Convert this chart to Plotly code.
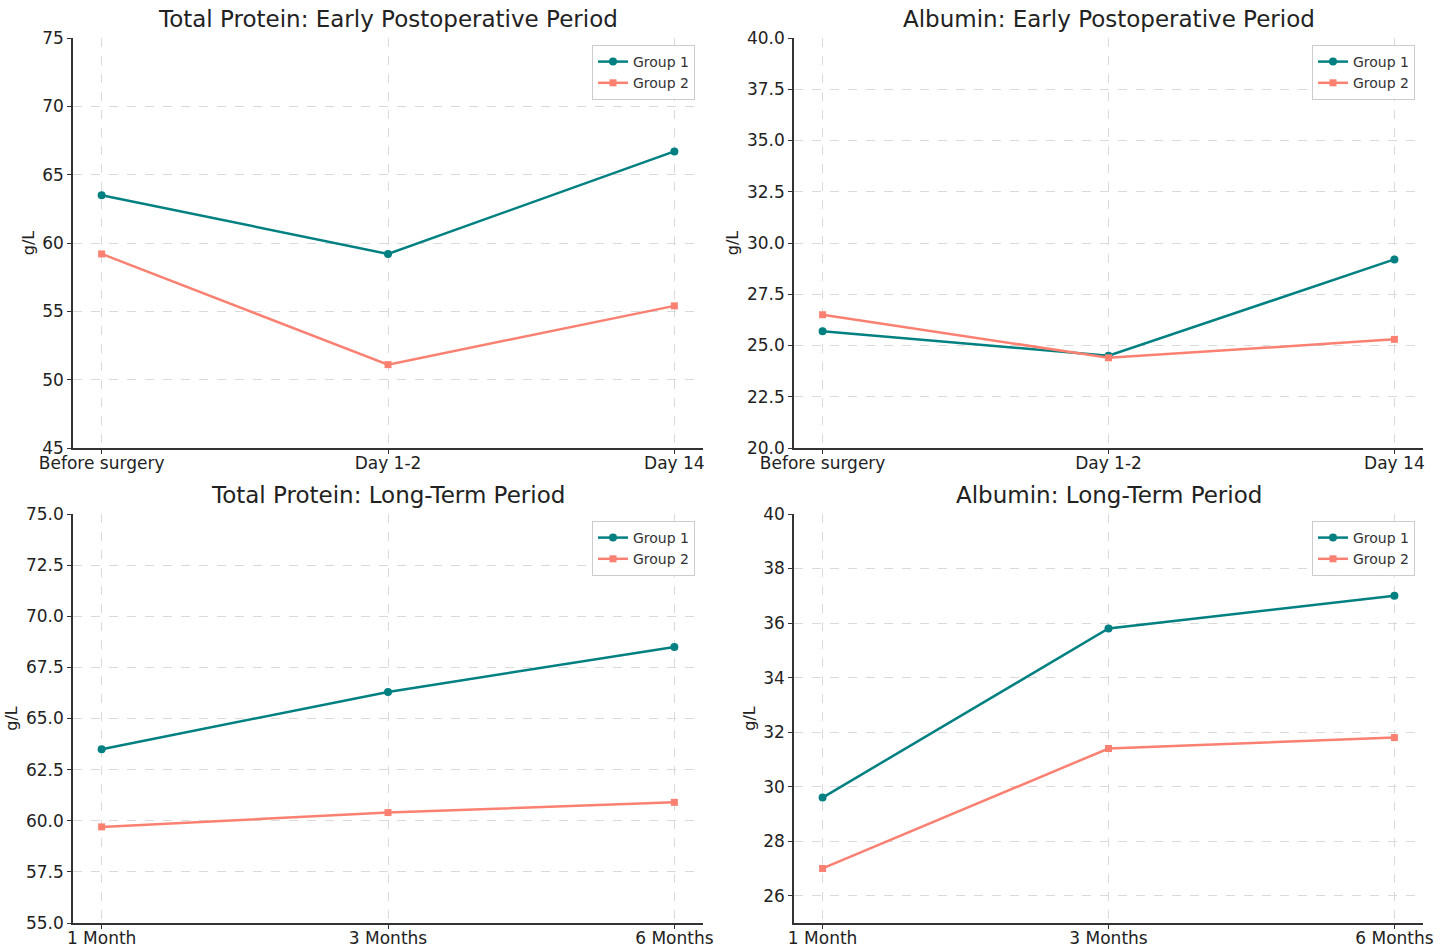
import plotly.graph_objects as go

# ---- data ----
early_labels = ["Before surgery", "Day 1-2", "Day 14"]
long_labels = ["1 Month", "3 Months", "6 Months"]

tp_early_g1 = [63.5, 59.2, 66.7]
tp_early_g2 = [59.2, 51.1, 55.4]
alb_early_g1 = [25.7, 24.5, 29.2]
alb_early_g2 = [26.5, 24.4, 25.3]
tp_long_g1 = [63.5, 66.3, 68.5]
tp_long_g2 = [59.7, 60.4, 60.9]
alb_long_g1 = [29.6, 35.8, 37.0]
alb_long_g2 = [27.0, 31.4, 31.8]

titles = ["Total Protein: Early Postoperative Period",
          "Albumin: Early Postoperative Period",
          "Total Protein: Long-Term Period",
          "Albumin: Long-Term Period"]

W, H = 1455, 950
G1_COLOR = "#008080"
G2_COLOR = "#FA8072"
FONT = "DejaVu Sans"


def fx(px):
    return px / W


def fy(py):
    return 1 - py / H


panels = [
    dict(labels=early_labels, g1=tp_early_g1, g2=tp_early_g2, yr=[45, 75], dt=5, fmt=None,
         px=(73, 703), py=(38, 448)),
    dict(labels=early_labels, g1=alb_early_g1, g2=alb_early_g2, yr=[20, 40], dt=2.5, fmt=".1f",
         px=(794, 1423), py=(38, 448)),
    dict(labels=long_labels, g1=tp_long_g1, g2=tp_long_g2, yr=[55, 75], dt=2.5, fmt=".1f",
         px=(73, 703), py=(514, 923)),
    dict(labels=long_labels, g1=alb_long_g1, g2=alb_long_g2, yr=[25, 40], dt=2, fmt=None,
         px=(794, 1423), py=(514, 923)),
]

fig = go.Figure()
annotations = []
layout_upd = {}

for i, p in enumerate(panels):
    n = i + 1
    xa = "x" if n == 1 else f"x{n}"
    ya = "y" if n == 1 else f"y{n}"
    xkey = "xaxis" if n == 1 else f"xaxis{n}"
    ykey = "yaxis" if n == 1 else f"yaxis{n}"
    lkey = "legend" if n == 1 else f"legend{n}"
    xs = list(range(len(p["labels"])))
    fig.add_trace(go.Scatter(x=xs, y=p["g1"], mode="lines+markers", name="Group 1",
                             line=dict(color=G1_COLOR, width=2.5),
                             marker=dict(symbol="circle", size=8, color=G1_COLOR),
                             xaxis=xa, yaxis=ya, legend=lkey))
    fig.add_trace(go.Scatter(x=xs, y=p["g2"], mode="lines+markers", name="Group 2",
                             line=dict(color=G2_COLOR, width=2.5),
                             marker=dict(symbol="square", size=7, color=G2_COLOR),
                             xaxis=xa, yaxis=ya, legend=lkey))
    layout_upd[xkey] = dict(domain=[fx(p["px"][0]), fx(p["px"][1])], anchor=ya,
                            range=[-0.1, 2.1], automargin=False,
                            tickvals=xs, ticktext=p["labels"],
                            showline=True, linecolor="#333333", linewidth=1.5,
                            ticks="outside", ticklen=4, tickcolor="#333333",
                            ticklabelstandoff=-5,
                            showgrid=True, gridcolor="#dadada", griddash="dash", gridwidth=1,
                            zeroline=False, tickfont=dict(size=17, color="#222222", family=FONT))
    layout_upd[ykey] = dict(domain=[fy(p["py"][1]), fy(p["py"][0])], anchor=xa,
                            range=p["yr"], dtick=p["dt"],
                            tick0=0, tickformat=p["fmt"], automargin=False,
                            showline=True, linecolor="#333333", linewidth=1.5,
                            ticks="outside", ticklen=4, tickcolor="#333333",
                            showgrid=True, gridcolor="#dadada", griddash="dash", gridwidth=1,
                            zeroline=False, tickfont=dict(size=17, color="#222222", family=FONT),
                            title=dict(text="g/L", font=dict(size=16, color="#222222", family=FONT),
                                       standoff=4))
    layout_upd[lkey] = dict(x=fx(p["px"][1] - 8), y=fy(p["py"][0] + 7),
                            xanchor="right", yanchor="top", xref="paper", yref="paper",
                            bgcolor="rgba(255,255,255,0.9)", bordercolor="#cccccc", borderwidth=1,
                            font=dict(size=14, color="#333333", family=FONT), tracegroupgap=0)
    annotations.append(dict(text=titles[i], x=fx((p["px"][0] + p["px"][1]) / 2),
                            y=fy(p["py"][0] - 19), xref="paper", yref="paper",
                            xanchor="center", yanchor="middle", showarrow=False,
                            font=dict(size=23, color="#222222", family=FONT)))

fig.update_layout(**layout_upd)
fig.update_layout(width=W, height=H, margin=dict(l=0, r=0, t=0, b=0),
                  paper_bgcolor="white", plot_bgcolor="white",
                  annotations=annotations, font=dict(family=FONT))

fig.write_html("out.html", config={"displayModeBar": False},
               post_script="document.body.style.margin='0';document.body.style.overflow='hidden';")
